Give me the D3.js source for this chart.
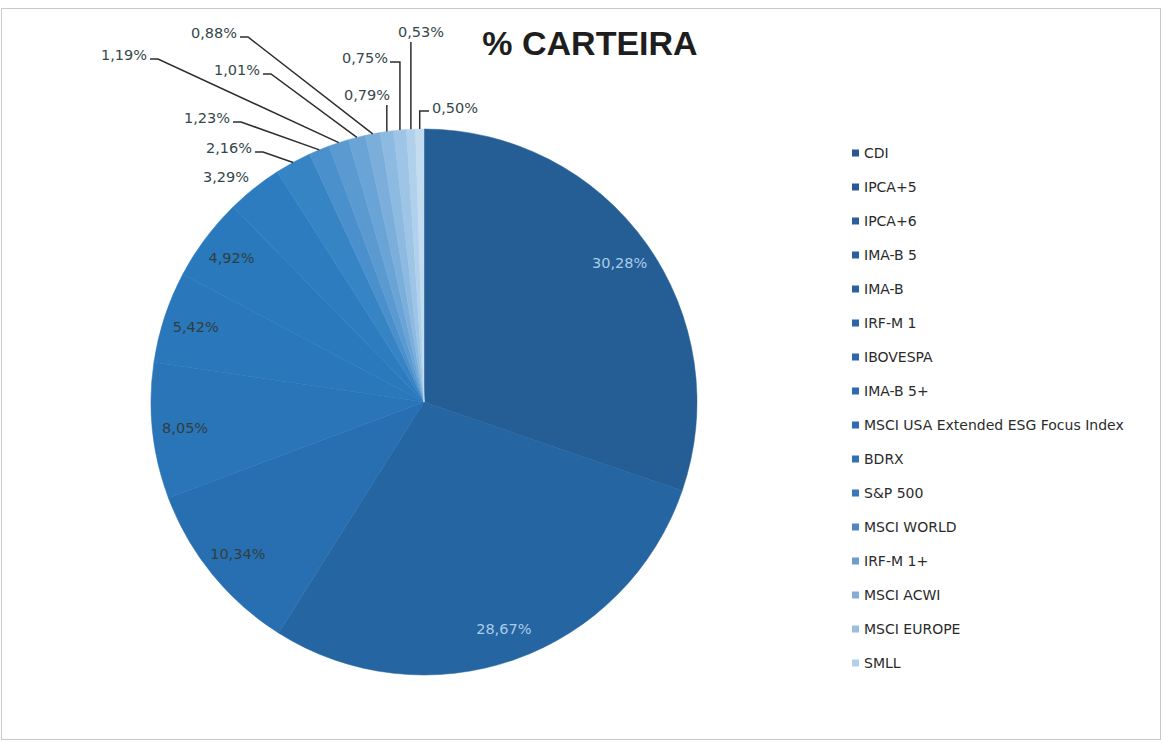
<!DOCTYPE html>
<html>
<head>
<meta charset="utf-8">
<script src="https://cdn.jsdelivr.net/npm/d3@7"></script>
<style>
  body { margin: 0; background: #fff; }
  text { font-family: "DejaVu Sans", sans-serif; }
</style>
</head>
<body>
<div id="chart"></div>
<script>
// chart data
const categories = ["CDI", "IPCA+5", "IPCA+6", "IMA-B 5", "IMA-B", "IRF-M 1", "IBOVESPA", "IMA-B 5+",
  "MSCI USA Extended ESG Focus Index", "BDRX", "S&P 500", "MSCI WORLD", "IRF-M 1+", "MSCI ACWI", "MSCI EUROPE", "SMLL"];
const values = [30.28, 28.67, 10.34, 8.05, 5.42, 4.92, 3.29, 2.16, 1.23, 1.19, 1.01, 0.88, 0.79, 0.75, 0.53, 0.50];
const valueLabels = ["30,28%", "28,67%", "10,34%", "8,05%", "5,42%", "4,92%", "3,29%", "2,16%",
  "1,23%", "1,19%", "1,01%", "0,88%", "0,79%", "0,75%", "0,53%", "0,50%"];
const colors = ["#245e95", "#2565a1", "#286fb1", "#2a74b8", "#2a77bb", "#2b79bd", "#2d7cc0", "#3784c5",
  "#4a90cc", "#5a9ad1", "#6aa4d6", "#7caedb", "#8dbae1", "#9ec4e6", "#b0d0ec", "#c3dcf0"];
const legendColors = ["#2b5593", "#2a5898", "#2b5c9d", "#2b5ea1", "#2c60a4", "#2d63a8", "#2e66ac", "#2f69b0",
  "#2f6cb3", "#3270b6", "#3a78ba", "#4f85c2", "#6f9bcd", "#84acd6", "#9bbde0", "#b2d0ea"];

const width = 1164, height = 743;
const cx = 424, cy = 402, radius = 273;

// where the small-slice callouts sit (layout only)
// mode h: text then short dash then diagonal; vr/vl: elbow down; va: text above, straight down
const callouts = [
  {i: 6, x: 226, y: 177, mode: "none"},
  {i: 7, x: 252, y: 148, mode: "h"},
  {i: 8, x: 230, y: 118, mode: "h"},
  {i: 9, x: 147, y: 55, mode: "h"},
  {i: 10, x: 260, y: 70, mode: "h"},
  {i: 11, x: 237, y: 33, mode: "h"},
  {i: 12, x: 367, y: 95, mode: "va"},
  {i: 13, x: 388, y: 58, mode: "vr"},
  {i: 14, x: 421, y: 32, mode: "va"},
  {i: 15, x: 432, y: 108, mode: "vl"}
];

const svg = d3.select("#chart").append("svg")
  .attr("width", width)
  .attr("height", height);

svg.append("rect")
  .attr("x", 1.5).attr("y", 8.5)
  .attr("width", 1159).attr("height", 731)
  .attr("fill", "#fff")
  .attr("stroke", "#c9c9c9");

svg.append("text")
  .attr("x", 590).attr("y", 55)
  .attr("text-anchor", "middle")
  .style("font-family", "'Liberation Sans', Arial, sans-serif")
  .style("font-weight", "bold")
  .style("font-size", "34px")
  .attr("fill", "#1e1e1e")
  .text("% CARTEIRA");

const pie = d3.pie().sort(null).value(d => d);
const arcs = pie(values);
const arc = d3.arc().innerRadius(0).outerRadius(radius);

const g = svg.append("g").attr("transform", "translate(" + cx + "," + cy + ")");

g.selectAll("path")
  .data(arcs)
  .enter()
  .append("path")
    .attr("d", arc)
    .attr("fill", (d, i) => colors[i])
    .attr("stroke", (d, i) => colors[i])
    .attr("stroke-width", 0.5);

// labels inside the big slices
const inner = d3.arc().innerRadius(radius * 0.88).outerRadius(radius * 0.88);
g.selectAll("text.inlabel")
  .data(arcs.slice(0, 6))
  .enter()
  .append("text")
    .attr("class", "inlabel")
    .attr("transform", d => "translate(" + inner.centroid(d) + ")")
    .attr("text-anchor", "middle")
    .attr("dy", "0.35em")
    .style("font-size", "14.5px")
    .attr("fill", (d, i) => i < 2 ? "#a9cce9" : "#2f3f40")
    .text((d, i) => valueLabels[i]);

// callouts for the small slices
const mid = d => (d.startAngle + d.endAngle) / 2;
const edge = d => [cx + radius * Math.sin(mid(d)), cy - radius * Math.cos(mid(d))];

callouts.forEach(c => {
  const d = arcs[c.i];
  const p = edge(d);
  let anchor = "end", pts = null;
  if (c.mode === "h") {
    pts = [[c.x + 3, c.y + 4], [c.x + 11, c.y + 4], p];
  } else if (c.mode === "vr") {
    pts = [[c.x + 2, c.y + 4], [p[0], c.y + 4], p];
  } else if (c.mode === "vl") {
    anchor = "start";
    pts = [[c.x - 3, c.y + 3], [p[0], c.y + 3], p];
  } else if (c.mode === "va") {
    anchor = "middle";
    pts = [[p[0], c.y + 10], p];
  } else {
    anchor = "middle";
  }
  if (pts) {
    svg.append("path")
      .attr("d", d3.line()(pts))
      .attr("fill", "none")
      .attr("stroke", "#2e2e2e")
      .attr("stroke-width", 1.5);
  }
  svg.append("text")
    .attr("x", c.x).attr("y", c.y)
    .attr("dy", "0.35em")
    .attr("text-anchor", anchor)
    .style("font-size", "14.5px")
    .attr("fill", "#34484a")
    .text(valueLabels[c.i]);
});

// legend
const legendY = d3.scalePoint().domain(categories).range([153, 663]);
const legend = svg.append("g");
legend.selectAll("rect")
  .data(categories)
  .enter()
  .append("rect")
    .attr("x", 852)
    .attr("y", d => legendY(d) - 3.5)
    .attr("width", 7).attr("height", 7)
    .attr("fill", (d, i) => legendColors[i]);
legend.selectAll("text")
  .data(categories)
  .enter()
  .append("text")
    .attr("x", 864)
    .attr("y", d => legendY(d))
    .attr("dy", "0.35em")
    .style("font-size", "14px")
    .attr("fill", "#2b2b2b")
    .text(d => d);
</script>
</body>
</html>
